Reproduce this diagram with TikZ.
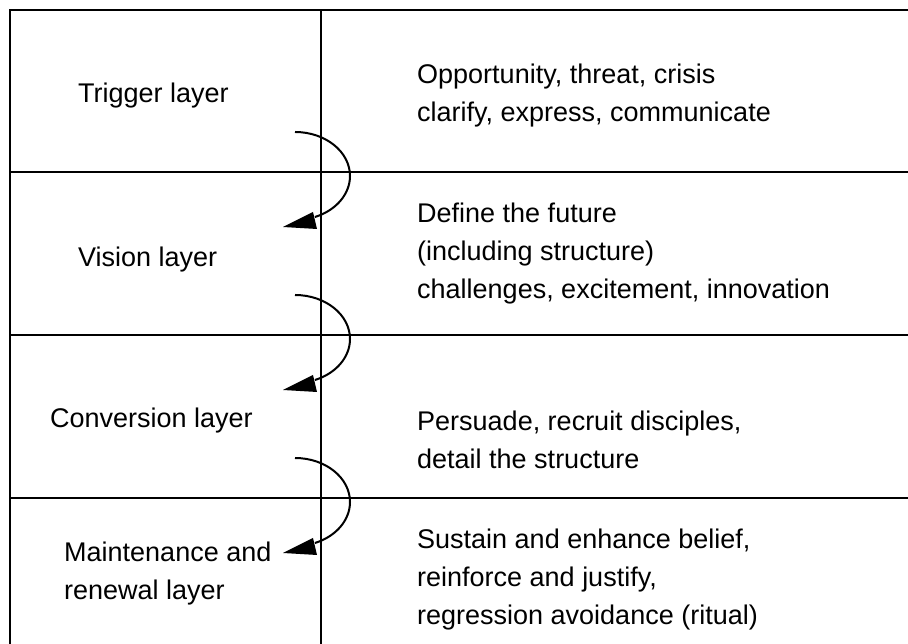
\documentclass[tikz,border=0pt]{standalone}
\usepackage{fontspec}
\setmainfont{Liberation Sans}
\begin{document}
\begin{tikzpicture}[x=1pt,y=1pt,
  rule/.style={line width=2.2pt, line cap=rect},
  flow/.style={line width=2pt},
  lbl/.style={anchor=west, align=left, inner sep=0pt, font=\fontsize{27}{38}\selectfont}]
\useasboundingbox (0,0) rectangle (908,644);
% frame
\coordinate (tl) at (10,634);
\coordinate (tr) at (908,634);
\coordinate (bl) at (10,0);
\coordinate (tm) at (321,634);
\coordinate (bm) at (321,0);
\draw[rule] (bl) -- (tl) -- (tr);
\draw[rule] (tm) -- (bm);
\foreach \y/\n in {472/1,309/2,146/3} {
  \coordinate (d\n l) at (10,\y);
  \coordinate (d\n r) at (908,\y);
  \draw[rule] (d\n l) -- (d\n r);
  \draw[flow] (295,\y+40) arc[start angle=90,end angle=-68.7,x radius=55,y radius=44];
  \fill (283,\y-55) -- (313,\y-40) -- (317,\y-57) -- cycle;
}
% left column
\node[lbl] (trig) at (78,548) {Trigger layer};
\node[lbl] (vis) at (78,384) {Vision layer};
\node[lbl] (conv) at (50,223) {Conversion layer};
\node[lbl] (maint) at (64,70) {Maintenance and\\renewal layer};
% right column
\node[lbl] (t1) at (417,548) {Opportunity, threat, crisis\\clarify, express, communicate};
\node[lbl] (t2) at (417,390) {Define the future\\(including structure)\\challenges, excitement, innovation};
\node[lbl] (t3) at (417,204) {Persuade, recruit disciples,\\detail the structure};
\node[lbl] (t4) at (417,64) {Sustain and enhance belief,\\reinforce and justify,\\regression avoidance (ritual)};
\end{tikzpicture}
\end{document}
